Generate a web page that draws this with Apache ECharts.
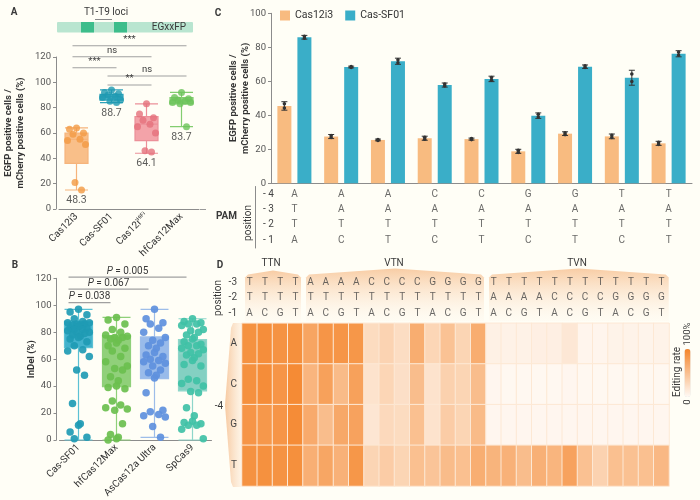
<!DOCTYPE html>
<html lang="en">
<head>
<meta charset="utf-8">
<title>Cas-SF01 editing</title>
<script src="https://cdn.jsdelivr.net/npm/echarts@6/dist/echarts.min.js"></script>
<style>
  html, body { margin: 0; padding: 0; background: #fffef6; }
  #chart { width: 700px; height: 500px; }
</style>
</head>
<body>
<div id="chart"></div>
<script>
// ---------- A: EGxxFP reporter ----------
const A_CATS = ['Cas12i3', 'Cas-SF01', 'Cas12i^HiFi', 'hfCas12Max']
const A_BOX = [
  [15, 36, 55, 60, 64],
  [84, 86, 88.5, 90.5, 94],
  [44, 54, 67, 73, 83],
  [65, 83, 86, 88, 92]
]
const A_POINTS = [
  [64, 63, 60, 59, 55, 54, 51, 21, 15],
  [94, 92, 91, 90, 89, 88, 86, 85, 84],
  [83, 75, 72, 70, 67, 65, 60, 46, 45],
  [92, 88, 87, 86, 85, 84, 84, 83, 65]
]
const A_MEANS = [48.3, 88.7, 64.1, 83.7]
const A_SIG = [[0, 3, 128.9, '***'], [0, 2, 120.2, 'ns'], [0, 1, 111.5, '***'], [1, 3, 105, 'ns'], [1, 2, 97.9, '**']]

// ---------- B: InDel ----------
const B_CATS = ['Cas-SF01', 'hfCas12Max', 'AsCas12a Ultra', 'SpCas9']
const B_BOX = [
  [0, 68.5, 81, 88, 97],
  [0, 39.5, 70, 77.5, 91],
  [2, 45.5, 60, 76.5, 97],
  [0, 36.5, 64, 74.5, 90]
]
const B_POINTS = [
  [97, 95, 93, 90, 88, 87, 87, 86, 86, 85, 85, 84, 83, 83, 82, 82, 81, 80, 80, 79, 78, 77, 76, 75, 73, 70, 67, 66, 62, 52, 48, 27, 12, 11, 6, 2, 1],
  [91, 89, 86, 82, 80, 78, 77, 76, 76, 75, 74, 72, 70, 68, 66, 62, 58, 55, 53, 52, 47, 44, 40, 39, 38, 29, 26, 24, 23, 22, 12, 4, 2, 1, 0],
  [97, 90, 87, 86, 83, 80, 76, 74, 72, 70, 68, 65, 63, 62, 60, 59, 58, 57, 55, 52, 50, 48, 46, 35, 22, 21, 19, 18, 17, 10, 2],
  [90, 88, 87, 86, 86, 85, 82, 81, 80, 78, 76, 75, 73, 71, 70, 70, 68, 67, 65, 64, 63, 61, 59, 56, 55, 45, 44, 42, 40, 36, 35, 24, 18, 14, 13, 12, 11, 11, 8, 1]
]
const B_SIG = [[0, 3, 120.8, '0.005'], [0, 2, 112, '0.067'], [0, 1, 102, '0.038']]

// ---------- C: PAM preference ----------
const PAM_SEQ = ['ATTA', 'AATC', 'AATT', 'CATC', 'CATT', 'GATC', 'GATT', 'TATC', 'TATT']
const PAM_ROWS = ['- 4', '- 3', '- 2', '- 1']
const CAS12I3_VALS = [45.5, 27.5, 25.5, 26.5, 26, 18.8, 29.2, 27.6, 23.5]
const CAS12I3_ERR = [2.5, 1.2, 0.5, 1.2, 0.6, 1.2, 1.1, 1.4, 1.2]
const SF01_VALS = [85.9, 68.4, 71.8, 57.8, 61.4, 39.8, 68.6, 62.1, 76.2]
const SF01_ERR = [1.1, 0.5, 1.8, 1.2, 1.6, 1.6, 1.0, 4.4, 1.8]

// ---------- D: heatmap ----------
const D_POS3 = 'TTTTAAAACCCCGGGGTTTTTTTTTTTT'
const D_POS2 = 'TTTTTTTTTTTTTTTTAAAACCCCGGGG'
const D_POS1 = 'ACGTACGTACGTACGTACGTACGTACGT'
const D_ROWS = ['A', 'C', 'G', 'T']
const HEAD_ROWS = ['-3', '-2', '-1']
const HM_A = [89, 92, 88, 91, 73, 86, 86, 85, 26, 33, 25, 66, 31, 48, 32, 66, 8, 7, 7, 9, 9, 16, 4, 4, 6, 6, 5, 6]
const HM_C = [90, 93, 86, 95, 59, 76, 54, 76, 20, 31, 23, 52, 20, 35, 32, 52, 3, 2, 2, 2, 2, 3, 2, 2, 2, 2, 2, 2]
const HM_G = [86, 84, 86, 94, 68, 52, 70, 75, 17, 28, 26, 50, 20, 39, 32, 54, 3, 3, 3, 3, 3, 3, 3, 3, 3, 3, 3, 3]
const HM_T = [89, 90, 88, 91, 64, 72, 62, 85, 32, 39, 32, 50, 46, 53, 50, 65, 60, 62, 52, 63, 59, 75, 49, 34, 50, 49, 50, 56]

// ---------- 样式 ----------
const FONT = 'Roboto, "Noto Sans", sans-serif'
const TXT = '#3a3a3a'
const AXIS = '#8c8c8c'
const A_FILL = ['rgba(248,180,118,0.85)', 'rgba(52,168,192,0.9)', 'rgba(240,140,150,0.8)', 'rgba(130,205,112,0.85)']
const A_LINE = ['#f6b47c', '#2ea2ba', '#ec9099', '#83cd70']
const A_DOT = ['#f29a44', '#1f9ab2', '#e5717c', '#6cc35a']
const B_FILL = ['rgba(45,170,200,0.9)', 'rgba(125,200,100,0.85)', 'rgba(135,175,232,0.85)', 'rgba(110,200,185,0.85)']
const B_LINE = ['#5cc1d4', '#8fd07a', '#9dbde9', '#8ed6ca']
const B_DOT = ['#1f9bb4', '#6bbf4e', '#5e90dd', '#40c1a6']
const C_COLORS = ['#f8bb80', '#3aaec8']
const JITTER = [0, -0.7, 0.7, -0.35, 0.35, -0.9, 0.9, -0.15, 0.5, -0.5, 0.15]

const chart = echarts.init(document.getElementById('chart'))

// 散点抖动
const jitterPoints = (cats, pts, colors, spread) => {
  const out = []
  pts.forEach((list, ci) => list.forEach((v, i) => out.push({
    value: [cats[ci], v],
    symbolOffset: [JITTER[i % JITTER.length] * spread, 0],
    itemStyle: { color: colors[ci] }
  })))
  return out
}

// 显著性横线
const sigSeries = (xi, sig, dx, richLabel) => ({
  type: 'custom', xAxisIndex: xi, yAxisIndex: xi, z: 6, silent: true, clip: false,
  encode: { x: [0, 1], y: 2 },
  data: sig.map(s => [s[0], s[1], s[2]]),
  renderItem: (params, api) => {
    const p1 = api.coord([api.value(0), api.value(2)])
    const p2 = api.coord([api.value(1), api.value(2)])
    const x1 = p1[0] + dx[0], x2 = p2[0] + dx[1]
    const t = sig[params.dataIndex][3]
    return {
      type: 'group', children: [
        { type: 'line', shape: { x1, y1: p1[1], x2, y2: p1[1] }, style: { stroke: '#a0a0a0', lineWidth: 1.2 } },
        {
          type: 'text', x: (x1 + x2) / 2, y: p1[1] - 1,
          style: richLabel
            ? { text: '{i|P} = ' + t, rich: { i: { fontStyle: 'italic', fontSize: 10, fontFamily: FONT, fill: TXT } }, align: 'center', verticalAlign: 'bottom', fontSize: 10, fontFamily: FONT, fill: TXT }
            : { text: t, align: 'center', verticalAlign: 'bottom', fontSize: 9.5, fontFamily: FONT, fill: TXT }
        }
      ]
    }
  }
})

// 误差线
const errorSeries = (vals, errs, shift) => ({
  type: 'custom', xAxisIndex: 2, yAxisIndex: 2, z: 6, silent: true,
  data: vals.map((v, i) => [i, v, errs[i]]),
  renderItem: (params, api) => {
    const i = api.value(0), v = api.value(1), e = api.value(2)
    const x = api.coord([i, v])[0] + shift
    const yt = api.coord([i, v + e])[1], yb = api.coord([i, v - e])[1]
    const st = { stroke: '#333', lineWidth: 1 }
    return {
      type: 'group', children: [
        { type: 'line', shape: { x1: x, y1: yt, x2: x, y2: yb }, style: st },
        { type: 'line', shape: { x1: x - 3, y1: yt, x2: x + 3, y2: yt }, style: st },
        { type: 'line', shape: { x1: x - 3, y1: yb, x2: x + 3, y2: yb }, style: st },
        { type: 'circle', shape: { cx: x, cy: api.coord([i, v + e * 0.5])[1], r: 1.8 }, style: { fill: '#333' } },
        { type: 'circle', shape: { cx: x, cy: api.coord([i, v - e * 0.5])[1], r: 1.8 }, style: { fill: '#333' } }
      ]
    }
  }
})

const valueY = (gi, max, name, nameGap, offset) => ({
  type: 'value', gridIndex: gi, min: 0, max, interval: 20, offset,
  name, nameLocation: 'middle', nameGap, nameMoveOverlap: false,
  nameTextStyle: { fontSize: 9.5, fontWeight: 'bold', color: '#333', fontFamily: FONT, lineHeight: 12 },
  axisLine: { show: true, lineStyle: { color: AXIS } },
  axisTick: { show: true, length: 3, lineStyle: { color: AXIS } },
  axisLabel: { fontSize: 9.5, color: '#555', fontFamily: FONT, margin: 5 },
  splitLine: { show: false }
})

const catX = (gi, data, extra) => Object.assign({
  type: 'category', gridIndex: gi, data,
  axisLine: { show: true, lineStyle: { color: AXIS } },
  axisTick: { show: false },
  axisLabel: { show: false }
}, extra)

const hiddenCat = (gi, data, extra) => Object.assign({
  type: 'category', gridIndex: gi, data,
  axisLine: { show: false }, axisTick: { show: false }, axisLabel: { show: false }, splitLine: { show: false }
}, extra)

const rotLabel = {
  show: true, rotate: 45, fontSize: 10, color: '#333', fontFamily: FONT, margin: 6, interval: 0,
  formatter: v => v.includes('^') ? v.split('^')[0] + '{sup|' + v.split('^')[1] + '}' : v,
  rich: { sup: { fontSize: 5.5, verticalAlign: 'top', padding: [0, 0, 6, 0], fontFamily: FONT, color: '#333' } }
}

// 文本数据
const pamData = []
PAM_SEQ.forEach(seq => seq.split('').forEach((b, r) => pamData.push([seq, PAM_ROWS[r], b])))
const D_COLS = D_POS3.split('').map((b, i) => b + D_POS2[i] + D_POS1[i])
const headData = []
D_COLS.forEach(c => c.split('').forEach((b, r) => headData.push([c, HEAD_ROWS[r], b])))
const hmData = []
;[HM_A, HM_C, HM_G, HM_T].forEach((row, r) => row.forEach((v, c) => hmData.push([c, r, v])))

const series = [
  // A
  {
    type: 'boxplot', xAxisIndex: 0, yAxisIndex: 0, boxWidth: [23, 23], silent: true,
    data: A_BOX.map((b, i) => ({ value: b, itemStyle: { color: A_FILL[i], borderColor: A_LINE[i], borderWidth: 1.2 } }))
  },
  {
    type: 'scatter', xAxisIndex: 0, yAxisIndex: 0, symbolSize: 7, z: 4, silent: true,
    data: jitterPoints(A_CATS, A_POINTS, A_DOT, 10)
  },
  {
    type: 'scatter', xAxisIndex: 0, yAxisIndex: 0, symbolSize: 0, silent: true,
    data: A_BOX.map((b, i) => [A_CATS[i], b[0]]),
    label: {
      show: true, position: 'bottom', distance: 5, fontSize: 10.5, color: '#333', fontFamily: FONT,
      formatter: p => A_MEANS[p.dataIndex].toFixed(1)
    }
  },
  sigSeries(0, A_SIG, [-4, 5], false),
  // B
  {
    type: 'boxplot', xAxisIndex: 1, yAxisIndex: 1, boxWidth: [28, 28], silent: true,
    data: B_BOX.map((b, i) => ({ value: b, itemStyle: { color: B_FILL[i], borderColor: B_LINE[i], borderWidth: 1.2 } }))
  },
  {
    type: 'scatter', xAxisIndex: 1, yAxisIndex: 1, symbolSize: 7.5, z: 4, silent: true,
    itemStyle: { opacity: 0.92 },
    data: jitterPoints(B_CATS, B_POINTS, B_DOT, 12)
  },
  sigSeries(1, B_SIG, [-10, -6], true),
  // C
  {
    name: 'Cas12i3', type: 'bar', xAxisIndex: 2, yAxisIndex: 2, barWidth: 14, barGap: '43%',
    itemStyle: { color: C_COLORS[0] }, data: CAS12I3_VALS
  },
  {
    name: 'Cas-SF01', type: 'bar', xAxisIndex: 2, yAxisIndex: 2, barWidth: 14, barGap: '43%',
    itemStyle: { color: C_COLORS[1] }, data: SF01_VALS
  },
  errorSeries(CAS12I3_VALS, CAS12I3_ERR, -10),
  errorSeries(SF01_VALS, SF01_ERR, 10),
  {
    type: 'scatter', xAxisIndex: 3, yAxisIndex: 3, symbolSize: 0, silent: true, data: pamData,
    label: { show: true, position: 'inside', fontSize: 10, color: '#444', fontFamily: FONT, formatter: p => p.data[2] }
  },
  // D
  {
    type: 'heatmap', xAxisIndex: 4, yAxisIndex: 4, data: hmData, silent: true,
    itemStyle: { borderColor: '#fde8d4', borderWidth: 1 }
  },
  {
    type: 'scatter', xAxisIndex: 5, yAxisIndex: 5, symbolSize: 0, silent: true, data: headData, z: 5,
    label: { show: true, position: 'inside', fontSize: 10, color: '#444', fontFamily: FONT, formatter: p => p.data[2] }
  }
]
const HEAT_INDEX = series.findIndex(s => s.type === 'heatmap')

// 装饰
const txt = (text, x, y, extra = {}, rotation = 0) => ({
  type: 'text', x, y, rotation, silent: true,
  style: Object.assign({ text, align: 'center', verticalAlign: 'middle', fill: TXT, fontSize: 10, fontFamily: FONT }, extra)
})
const tent = (x0, x1, yTop, yPeak, yBot) => ({
  type: 'polygon', silent: true, z: -1,
  shape: { points: [[x0, yBot], [x0, yTop + 3], [x0 + 3, yTop], [(x0 + x1) / 2, yPeak], [x1 - 3, yTop], [x1, yTop + 3], [x1, yBot]] },
  style: {
    fill: new echarts.graphic.LinearGradient(0, 0, 0, 1, [
      { offset: 0, color: 'rgba(247,196,150,0.85)' },
      { offset: 1, color: 'rgba(253,240,226,0.15)' }
    ])
  }
})

const graphic = [
  txt('A', 14, 12, { fontWeight: 'bold' }),
  txt('B', 15, 265, { fontWeight: 'bold' }),
  txt('C', 218, 13, { fontWeight: 'bold' }),
  txt('D', 220, 265, { fontWeight: 'bold' }),
  // gene schematic
  { type: 'rect', silent: true, shape: { x: 57, y: 22, width: 136, height: 10.5, r: 1 }, style: { fill: '#b9e5d0' } },
  { type: 'rect', silent: true, shape: { x: 81, y: 22, width: 13, height: 10.5 }, style: { fill: '#3dbd8b' } },
  { type: 'rect', silent: true, shape: { x: 114, y: 22, width: 13, height: 10.5 }, style: { fill: '#3dbd8b' } },
  { type: 'line', silent: true, shape: { x1: 95, y1: 19.5, x2: 112, y2: 19.5 }, style: { stroke: '#888', lineWidth: 1 } },
  txt('T1-T9 loci', 106, 12),
  txt('EGxxFP', 169, 27.5),
  // C table labels
  txt('PAM', 226.5, 216, { fontWeight: 'bold' }),
  txt('position', 248, 223, {}, Math.PI / 2),
  { type: 'line', silent: true, shape: { x1: 200, y1: 209.5, x2: 206, y2: 209.5 }, style: { stroke: '#999', lineWidth: 1 } },
  // D header
  tent(245, 301, 274.5, 270.5, 321),
  tent(306, 484, 274.5, 268.5, 321),
  tent(489, 668.7, 274.5, 268.5, 321),
  txt('TTN', 271, 263),
  txt('VTN', 394, 263),
  txt('TVN', 577, 263),
  txt('position', 218, 298, {}, Math.PI / 2),
  {
    type: 'polygon', silent: true, z: -1,
    shape: { points: [[241, 323], [233, 323], [231, 328], [225, 405], [231, 482], [233, 487], [241, 487]] },
    style: {
      fill: new echarts.graphic.LinearGradient(0, 0, 1, 0, [
        { offset: 0, color: 'rgba(246,196,152,0.9)' },
        { offset: 1, color: 'rgba(253,236,218,0.6)' }
      ])
    }
  },
  txt('-4', 219, 406),
  txt('100%', 688, 334, { fontSize: 9.5 }, Math.PI / 2),
  txt('0', 688, 402, { fontSize: 9.5 }, Math.PI / 2),
  txt('Editing rate', 677.5, 372, {}, Math.PI / 2)
]

const option = {
  backgroundColor: '#fffef6',
  animation: false,
  textStyle: { fontFamily: FONT },
  legend: {
    data: ['Cas12i3', 'Cas-SF01'], left: 280, top: 10, icon: 'rect', itemWidth: 10, itemHeight: 10, itemGap: 12,
    padding: 0, textStyle: { fontSize: 10.5, color: '#333', fontFamily: FONT }, selectedMode: false
  },
  grid: [
    { left: 59, top: 57, width: 140, height: 152, outerBoundsMode: 'none' },
    { left: 59.5, top: 278.3, width: 152, height: 161.7, outerBoundsMode: 'none' },
    { left: 271, top: 13.3, width: 421, height: 170, outerBoundsMode: 'none' },
    { left: 271, top: 186.5, width: 421, height: 61.5, outerBoundsMode: 'none' },
    { left: 242, top: 323.3, width: 427, height: 162.7, outerBoundsMode: 'none' },
    { left: 242, top: 274.5, width: 427, height: 46.5, outerBoundsMode: 'none' }
  ],
  xAxis: [
    catX(0, A_CATS, { axisLabel: rotLabel }),
    catX(1, B_CATS, { axisLabel: rotLabel }),
    catX(2, PAM_SEQ),
    hiddenCat(3, PAM_SEQ),
    hiddenCat(4, D_COLS),
    hiddenCat(5, D_COLS)
  ],
  yAxis: [
    valueY(0, 120, 'EGFP positive cells /\nmCherry positive cells (%)', 29, 3),
    valueY(1, 120, 'InDel (%)', 19, 3),
    valueY(2, 100, 'EGFP positive cells /\nmCherry positive cells (%)', 19, 0),
    {
      type: 'category', gridIndex: 3, data: PAM_ROWS, inverse: true, offset: 16,
      axisLine: { show: true, lineStyle: { color: AXIS } }, axisTick: { show: false },
      axisLabel: { inside: true, margin: 8, fontSize: 10, color: '#444', fontFamily: FONT }
    },
    {
      type: 'category', gridIndex: 4, data: D_ROWS, inverse: true,
      axisLine: { show: false }, axisTick: { show: false },
      axisLabel: { margin: 5, fontSize: 10, color: '#444', fontFamily: FONT }
    },
    {
      type: 'category', gridIndex: 5, data: HEAD_ROWS, inverse: true,
      axisLine: { show: false }, axisTick: { show: false },
      axisLabel: { margin: 5, fontSize: 10, color: '#444', fontFamily: FONT }
    }
  ],
  visualMap: {
    type: 'continuous', seriesIndex: HEAT_INDEX, min: 0, max: 100, orient: 'vertical',
    left: 684.5, top: 349, itemWidth: 6, itemHeight: 48, padding: 0, calculable: false,
    text: null, showLabel: false,
    inRange: { color: ['#fffaf5', '#f4852b'] }
  },
  series,
  graphic
}

chart.setOption(option)
</script>
</body>
</html>
